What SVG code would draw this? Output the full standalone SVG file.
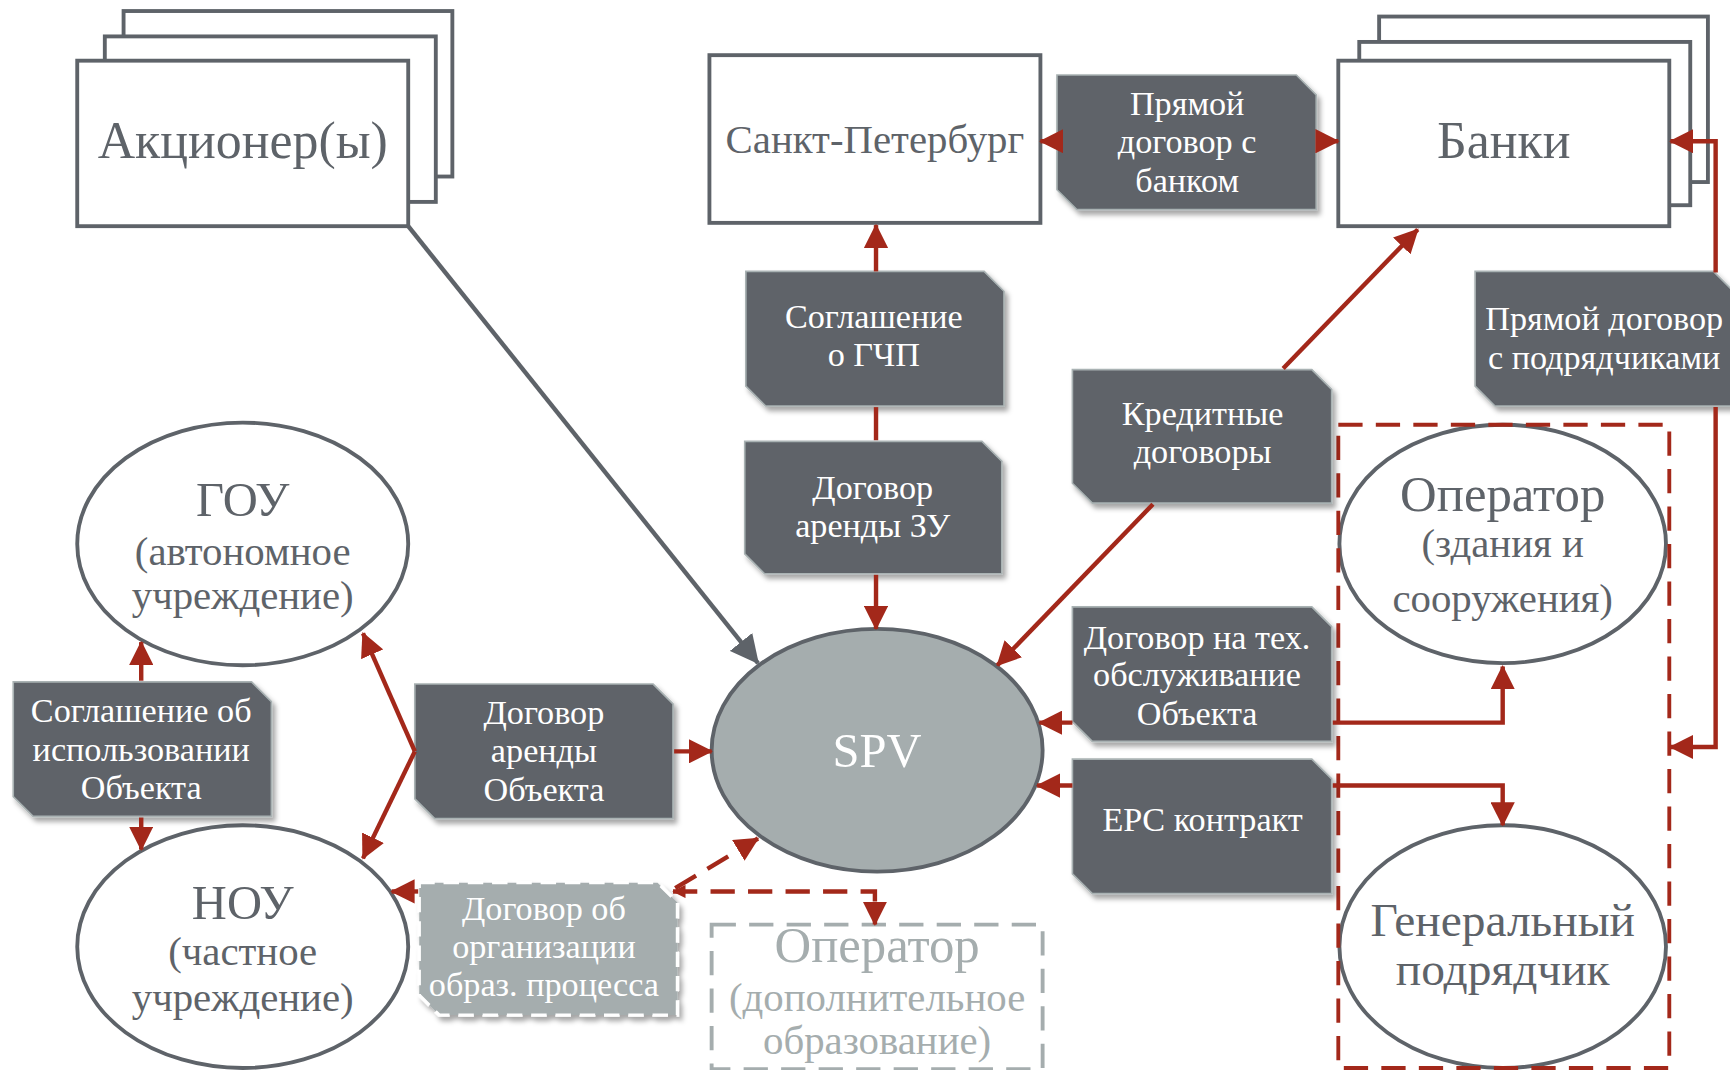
<svg xmlns="http://www.w3.org/2000/svg" width="1730" height="1070" viewBox="0 0 1730 1070">
<defs>
<style>
.stack{fill:#fff;stroke:#5e6369;stroke-width:3.5}
.ell{fill:#fff;stroke:#5e6369;stroke-width:3.5}
.lbl{fill:#5e6369;stroke:#a9b2b3;stroke-width:1.5;filter:url(#sh)}
.lt{font-family:"Liberation Serif",serif;font-size:31px;fill:#fff;text-anchor:middle}
.nt{font-family:"Liberation Serif",serif;fill:#5e6369;text-anchor:middle}
.gt{font-family:"Liberation Serif",serif;fill:#a5adae;text-anchor:middle}
.red{fill:none;stroke:#a3281a;stroke-width:4}
.redd{fill:none;stroke:#a3281a;stroke-width:4;stroke-dasharray:22 12}
.gray{fill:none;stroke:#5e6369;stroke-width:4}
</style>
<filter id="sh" x="-10%" y="-10%" width="130%" height="140%">
<feDropShadow dx="3" dy="4" stdDeviation="2.5" flood-color="#000" flood-opacity="0.35"/>
</filter>
<marker id="ar" viewBox="0 0 18 18" refX="17" refY="9" markerWidth="22" markerHeight="22" markerUnits="userSpaceOnUse" orient="auto">
<path d="M0,0 L18,9 L0,18 z" fill="#a3281a"/>
</marker>
<marker id="ars" viewBox="0 0 18 18" refX="17" refY="9" markerWidth="12" markerHeight="12" markerUnits="userSpaceOnUse" orient="auto-start-reverse">
<path d="M0,0 L18,9 L0,18 z" fill="#a3281a"/>
</marker>
<marker id="ag" viewBox="0 0 18 18" refX="17" refY="9" markerWidth="26" markerHeight="26" markerUnits="userSpaceOnUse" orient="auto">
<path d="M0,0 L18,9 L0,18 z" fill="#5e6369"/>
</marker>
</defs>
<rect x="0" y="0" width="1730" height="1070" fill="#fff"/>
<g transform="scale(1.1033)">

<g id="akcionery">
<rect class="stack" x="112" y="10" width="298" height="150"/>
<rect class="stack" x="95" y="33" width="300" height="150"/>
<rect class="stack" x="70" y="55" width="300" height="150"/>
<text class="nt" x="220" y="143" font-size="47">Акционер(ы)</text>
</g>

<g id="spb">
<rect class="stack" x="643" y="50" width="300" height="152"/>
<text class="nt" x="793" y="139" font-size="37">Санкт-Петербург</text>
</g>

<g id="banki">
<rect class="stack" x="1250" y="15" width="298" height="150"/>
<rect class="stack" x="1232" y="38" width="300" height="148"/>
<rect class="stack" x="1213" y="55" width="300" height="150"/>
<text class="nt" x="1363" y="143" font-size="47">Банки</text>
</g>

<g id="gou">
<ellipse class="ell" cx="220" cy="493" rx="150" ry="110"/>
<text class="nt" x="220" y="468" font-size="44">ГОУ</text>
<text class="nt" x="220" y="512" font-size="37">(автономное</text>
<text class="nt" x="220" y="552" font-size="37">учреждение)</text>
</g>

<g id="nou">
<ellipse class="ell" cx="220" cy="858" rx="150" ry="110"/>
<text class="nt" x="220" y="833" font-size="44">НОУ</text>
<text class="nt" x="220" y="875" font-size="37">(частное</text>
<text class="nt" x="220" y="916" font-size="37">учреждение)</text>
</g>

<g id="spv">
<ellipse cx="795" cy="680" rx="150" ry="110" fill="#a5adae" stroke="#5e6369" stroke-width="3.5"/>
<text x="795" y="695" font-family="Liberation Serif, serif" font-size="44" fill="#fff" text-anchor="middle">SPV</text>
</g>

<g id="operator">
<ellipse class="ell" cx="1362" cy="493" rx="148" ry="108"/>
<text class="nt" x="1362" y="463" font-size="46">Оператор</text>
<text class="nt" x="1362" y="505" font-size="37">(здания и</text>
<text class="nt" x="1362" y="555" font-size="37">сооружения)</text>
</g>

<g id="genpodryadchik">
<ellipse class="ell" cx="1362" cy="858" rx="148" ry="110"/>
<text class="nt" x="1362" y="848" font-size="43">Генеральный</text>
<text class="nt" x="1362" y="893" font-size="43">подрядчик</text>
</g>

<g id="contractors-group">
<rect x="1213" y="385" width="300" height="583" fill="none" stroke="#a3281a" stroke-width="3.5" stroke-dasharray="22 12"/>
</g>

<g id="operator-dop">
<rect x="645" y="838" width="300" height="131" fill="none" stroke="#a5adae" stroke-width="3.5" stroke-dasharray="22 12"/>
<text class="gt" x="795" y="872" font-size="46">Оператор</text>
<text class="gt" x="795" y="916" font-size="37">(дополнительное</text>
<text class="gt" x="795" y="955" font-size="37">образование)</text>
</g>

<g id="lbl-bank">
<polygon class="lbl" points="958,68 1175,68 1193,86 1193,190 976,190 958,172"/>
<text class="lt" x="1076" y="104">Прямой</text>
<text class="lt" x="1076" y="139">договор с</text>
<text class="lt" x="1076" y="174">банком</text>
</g>

<g id="lbl-gchp">
<polygon class="lbl" points="676,246 892,246 910,264 910,368 694,368 676,350"/>
<text class="lt" x="792" y="297">Соглашение</text>
<text class="lt" x="792" y="332">о ГЧП</text>
</g>

<g id="lbl-zu">
<polygon class="lbl" points="675,400 890,400 908,418 908,520 693,520 675,502"/>
<text class="lt" x="791" y="452">Договор</text>
<text class="lt" x="791" y="487">аренды ЗУ</text>
</g>

<g id="lbl-credit">
<polygon class="lbl" points="972,335 1189,335 1207,353 1207,456 990,456 972,438"/>
<text class="lt" x="1090" y="385">Кредитные</text>
<text class="lt" x="1090" y="420">договоры</text>
</g>

<g id="lbl-podr">
<polygon class="lbl" points="1337,246 1553,246 1571,264 1571,368 1355,368 1337,350"/>
<text class="lt" x="1454" y="299">Прямой договор</text>
<text class="lt" x="1454" y="334">с подрядчиками</text>
</g>

<g id="lbl-isp">
<polygon class="lbl" points="12,618 228,618 246,636 246,740 30,740 12,722"/>
<text class="lt" x="128" y="654">Соглашение об</text>
<text class="lt" x="128" y="690">использовании</text>
<text class="lt" x="128" y="724">Объекта</text>
</g>

<g id="lbl-arenda">
<polygon class="lbl" points="376,620 592,620 610,638 610,742 394,742 376,724"/>
<text class="lt" x="493" y="656">Договор</text>
<text class="lt" x="493" y="691">аренды</text>
<text class="lt" x="493" y="726">Объекта</text>
</g>

<g id="lbl-tech">
<polygon class="lbl" points="972,550 1189,550 1207,568 1207,672 990,672 972,654"/>
<text class="lt" x="1085" y="588">Договор на тех.</text>
<text class="lt" x="1085" y="622">обслуживание</text>
<text class="lt" x="1085" y="657">Объекта</text>
</g>

<g id="lbl-epc">
<polygon class="lbl" points="972,688 1189,688 1207,706 1207,810 990,810 972,792"/>
<text class="lt" x="1090" y="753">EPC контракт</text>
</g>

<g id="lbl-org">
<polygon points="380,800 596,800 614,818 614,920 398,920 380,902" fill="#a5adae" stroke="#fff" stroke-width="3" stroke-dasharray="14 8" filter="url(#sh)"/>
<text class="lt" x="493" y="834">Договор об</text>
<text class="lt" x="493" y="868">организации</text>
<text class="lt" x="493" y="903">образ. процесса</text>
</g>

<g id="connectors">
<path class="gray" d="M370,205 L687,601" marker-end="url(#ag)"/>
<path class="red" d="M794,246 L794,204" marker-end="url(#ar)"/>
<path class="red" d="M794,369 L794,399"/>
<path class="red" d="M794,521 L794,570" marker-end="url(#ar)"/>
<path class="red" d="M958,128 L943,128" marker-end="url(#ar)"/>
<path class="red" d="M1193,128 L1213,128" marker-end="url(#ar)"/>
<path class="red" d="M1163,334 L1285,208" marker-end="url(#ar)"/>
<path class="red" d="M1045,457 L904,603" marker-end="url(#ar)"/>
<path class="red" d="M972,655 L942,655" marker-end="url(#ar)"/>
<path class="red" d="M1208,655 L1362,655 L1362,604" marker-end="url(#ar)"/>
<path class="red" d="M972,712 L940,712" marker-end="url(#ar)"/>
<path class="red" d="M1208,712 L1362,712 L1362,748" marker-end="url(#ar)"/>
<path class="red" d="M1555,247 L1555,128 L1514,128" marker-end="url(#ar)"/>
<path class="red" d="M1555,369 L1555,677 L1514,677" marker-end="url(#ar)"/>
<path class="red" d="M611,681 L645,681" marker-end="url(#ar)"/>
<path class="red" d="M376,681 L329,574" marker-end="url(#ar)"/>
<path class="red" d="M376,681 L329,778" marker-end="url(#ar)"/>
<path class="red" d="M128,617 L128,582" marker-end="url(#ar)"/>
<path class="red" d="M128,741 L128,770" marker-end="url(#ar)"/>
<path class="red" d="M379,808 L355,808" marker-end="url(#ar)"/>
<path class="redd" d="M612,805 L687,760" marker-end="url(#ar)"/>
<path class="redd" d="M610,808 L793,808 L793,838" marker-start="url(#ars)" marker-end="url(#ar)"/>
</g>

</g>
</svg>
